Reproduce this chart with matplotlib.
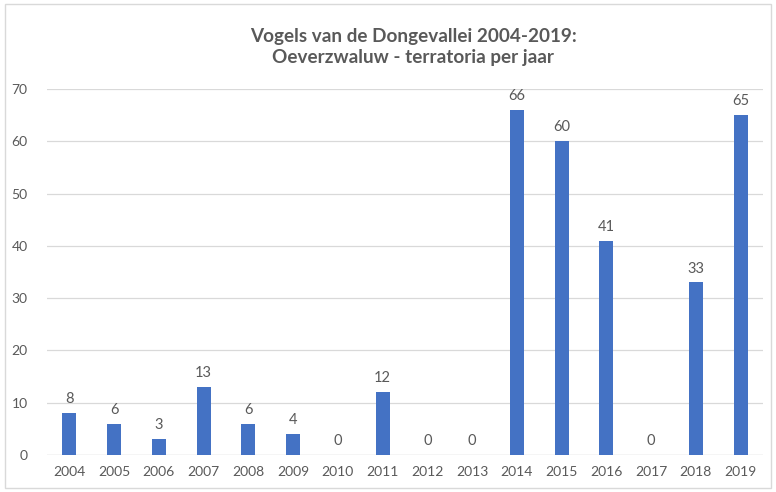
import matplotlib.pyplot as plt
from matplotlib.patches import Rectangle

years = [str(y) for y in range(2004, 2020)]
territoria = [8, 6, 3, 13, 6, 4, 0, 12, 0, 0, 66, 60, 41, 0, 33, 65]
yticks = [0, 10, 20, 30, 40, 50, 60, 70]

plt.rcParams['font.family'] = ['Lato', 'DejaVu Sans']
grey = '#595959'

fig = plt.figure(figsize=(7.76, 4.92), dpi=100)
ax = fig.add_axes([47 / 776, 1 - 455 / 492, 716 / 776, 366 / 492])

x = range(len(years))
bars = ax.bar(x, territoria, width=0.31, color='#4472C4', zorder=2)
for xi, v in zip(x, territoria):
    ax.annotate(str(v), (xi, v), xytext=(0, 5), textcoords='offset points',
                ha='center', va='bottom', fontsize=10.5, color=grey)

ax.set_xlim(-0.5, len(years) - 0.5)
ax.set_ylim(0, 70)
ax.set_yticks(yticks)
ax.set_xticks(list(x))
ax.set_xticklabels(years)
ax.tick_params(axis='both', length=0, labelsize=10, labelcolor=grey)
ax.tick_params(axis='y', pad=14)
ax.tick_params(axis='x', pad=8)
ax.grid(axis='y', color='#d9d9d9', linewidth=0.9, zorder=0)
for s in ax.spines.values():
    s.set_visible(False)
ax.axhline(0, color='#d9d9d9', linewidth=0.9, zorder=1)

fig.text(413 / 776, 1 - 47 / 492,
         'Vogels van de Dongevallei 2004-2019:\nOeverzwaluw - terratoria per jaar',
         ha='center', va='center', fontsize=13.6, fontweight='bold', color=grey,
         linespacing=1.3)

fig.patches.append(Rectangle((5 / 776, 4 / 492), 766 / 776, 484 / 492,
                             transform=fig.transFigure, fill=False,
                             edgecolor='#d9d9d9', linewidth=1))

fig.savefig('out.png', dpi=100)
